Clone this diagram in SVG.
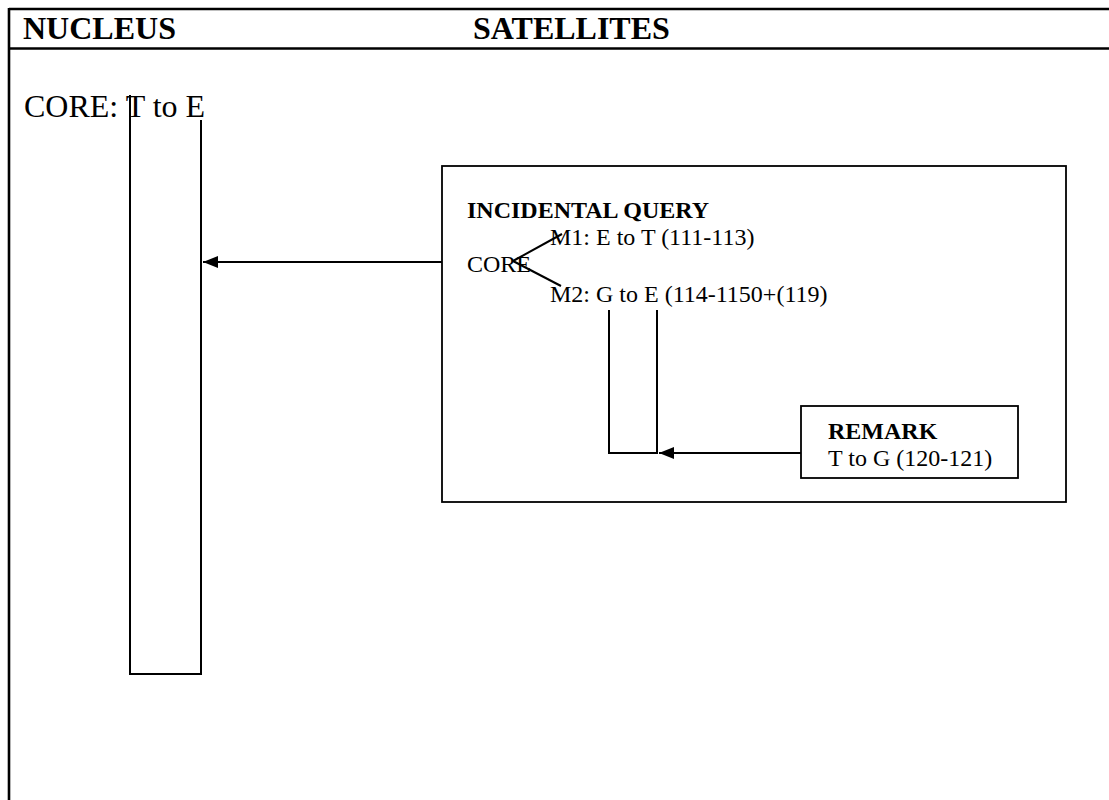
<svg xmlns="http://www.w3.org/2000/svg" width="1109" height="800" viewBox="0 0 1109 800">
<defs>
<style>
.t{font-family:"Liberation Serif","Times New Roman",serif;fill:#000}
.b{font-weight:bold}
.h{font-size:32px}
.s{font-size:24px}
.ln{stroke:#000;stroke-width:2;fill:none}
.frame{stroke:#000;stroke-width:2.6;fill:none}
.box{stroke:#000;stroke-width:1.8;fill:#fff}
</style>
<marker id="ah" markerUnits="userSpaceOnUse" markerWidth="16" markerHeight="13" refX="15" refY="6.5" orient="auto" viewBox="0 0 16 13">
<path d="M0,0.5 L15,6.5 L0,12.5 z" fill="#000"/>
</marker>
</defs>
<rect width="1109" height="800" fill="#fff"/>
<g id="frame">
<line class="frame" x1="9" y1="9" x2="1109" y2="9"/>
<line class="frame" x1="9" y1="48.5" x2="1109" y2="48.5"/>
<line class="frame" x1="9" y1="8" x2="9" y2="800"/>
<text class="t b h" x="23" y="38.5">NUCLEUS</text>
<text class="t b h" x="473" y="38.5">SATELLITES</text>
</g>
<g id="nucleus">
<text class="t h" x="24" y="116.5">CORE: T to E</text>
<line class="ln" x1="130" y1="95" x2="130" y2="675"/>
<line class="ln" x1="201" y1="120" x2="201" y2="675"/>
<line class="ln" x1="129" y1="674" x2="202" y2="674"/>
</g>
<g id="incidental-query">
<rect class="box" x="442" y="166" width="624" height="336"/>
<text class="t b s" x="467" y="218">INCIDENTAL QUERY</text>
<text class="t s" x="550" y="245">M1: E to T (111-113)</text>
<text class="t s" x="467" y="272">CORE</text>
<text class="t s" x="550" y="302">M2: G to E (114-1150+(119)</text>
<line class="ln" x1="513" y1="261" x2="562" y2="234"/>
<line class="ln" x1="513" y1="261" x2="561" y2="286"/>
<line class="ln" x1="609" y1="310" x2="609" y2="454"/>
<line class="ln" x1="657" y1="310" x2="657" y2="454"/>
<line class="ln" x1="608" y1="453" x2="658" y2="453"/>
</g>
<g id="remark">
<rect class="box" x="801" y="406" width="217" height="72"/>
<text class="t b s" x="828" y="439">REMARK</text>
<text class="t s" x="828" y="466">T to G (120-121)</text>
</g>
<g id="connectors">
<line class="ln" x1="442" y1="262" x2="203" y2="262" marker-end="url(#ah)"/>
<line class="ln" x1="801" y1="453" x2="659" y2="453" marker-end="url(#ah)"/>
</g>
</svg>
